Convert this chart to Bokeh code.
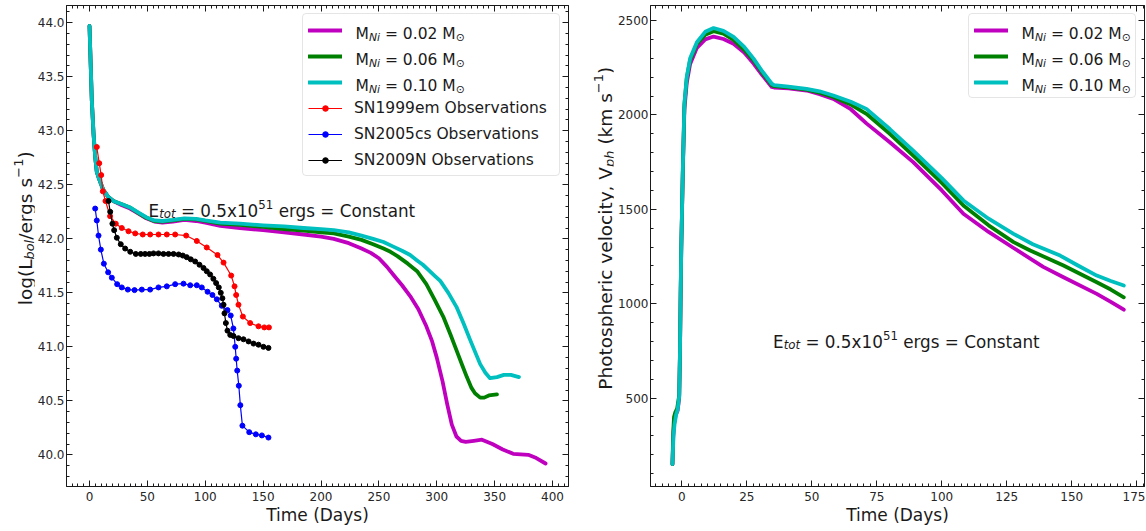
import math
from bokeh.plotting import figure
from bokeh.layouts import row
from bokeh.models import (Range1d, LinearAxis, SingleIntervalTicker, Legend, LegendItem,
                          Label, CustomJSTickFormatter, NumeralTickFormatter)
from bokeh.embed import file_html
from bokeh.resources import INLINE

FONT = "DejaVu Sans"
INK = "#1a1a1a"
TICK_INK = "#262626"

# ---------------- data: bolometric light curves (left panel) ----------------
lum_days_002 = [0, 1.1, 2, 3.5, 4.9, 6.3, 7.8, 9.5, 12, 16, 20.6, 28, 35, 42, 49, 56, 63, 72, 82, 92,
                100, 113, 130, 150, 168, 185, 200, 211, 224, 235, 243, 250, 257, 263, 270, 277, 284, 291,
                296, 300, 305, 309, 313, 317, 321, 325, 332, 339, 348, 357, 366, 379, 386, 394]
lum_002 = [43.97, 43.59, 43.28, 42.97, 42.76, 42.62, 42.57, 42.52, 42.45, 42.39, 42.35, 42.31, 42.28,
           42.235, 42.19, 42.16, 42.15, 42.16, 42.175, 42.165, 42.15, 42.12, 42.10, 42.08, 42.06, 42.04,
           42.02, 42.00, 41.96, 41.91, 41.87, 41.82, 41.74, 41.66, 41.57, 41.47, 41.35, 41.19,
           41.05, 40.90, 40.68, 40.47, 40.28, 40.17, 40.13, 40.12, 40.13, 40.14, 40.10, 40.05, 40.01,
           40.00, 39.97, 39.92]

lum_days_006 = [0, 1.1, 2, 3.5, 4.9, 6.3, 7.8, 9.5, 12, 16, 20.6, 28, 35, 42, 49, 56, 63, 72, 82, 92,
                100, 113, 130, 150, 168, 185, 200, 211, 224, 235, 245, 254, 260, 266, 275, 283, 291, 298,
                306, 312, 317, 322, 326, 330, 333, 337.5, 341, 345, 352]
lum_006 = [43.97, 43.59, 43.28, 42.97, 42.76, 42.62, 42.57, 42.52, 42.45, 42.39, 42.35, 42.32, 42.29,
           42.24, 42.195, 42.165, 42.16, 42.17, 42.185, 42.18, 42.165, 42.14, 42.13, 42.11, 42.09, 42.075,
           42.06, 42.05, 42.02, 41.99, 41.95, 41.91, 41.88, 41.84, 41.77, 41.70, 41.58, 41.44,
           41.27, 41.11, 40.97, 40.83, 40.72, 40.62, 40.57, 40.53, 40.53, 40.55, 40.56]

lum_days_010 = [0, 1.1, 2, 3.5, 4.9, 6.3, 7.8, 9.5, 12, 16, 20.6, 28, 35, 42, 49, 56, 63, 72, 82, 92,
                100, 113, 130, 150, 168, 185, 200, 211, 224, 235, 245, 254, 262, 270, 277, 283, 288, 293,
                298, 303, 310, 317, 323, 329, 334, 337.5, 342, 346, 352, 358, 364, 371]
lum_010 = [43.97, 43.59, 43.28, 42.97, 42.76, 42.62, 42.57, 42.52, 42.45, 42.39, 42.35, 42.32, 42.29,
           42.245, 42.20, 42.17, 42.165, 42.175, 42.19, 42.185, 42.17, 42.15, 42.14, 42.125, 42.115,
           42.10, 42.09, 42.08, 42.06, 42.03, 42.00, 41.97, 41.93, 41.89, 41.85, 41.80, 41.76, 41.71,
           41.66, 41.61, 41.50, 41.37, 41.22, 41.06, 40.93, 40.84, 40.76, 40.71, 40.72, 40.74, 40.74,
           40.72]

sn1999em_days = [6.3, 8.4, 10.1, 11.5, 13.8, 17.8, 22.7, 27.9, 33.7, 39.5, 46, 52.4, 59.6, 66.8, 74,
                 83.5, 92.7, 101.3, 110.6, 115.8, 122.4, 125.3, 126.7, 128.7, 132.5, 138.8, 146, 151, 155]
sn1999em_lum = [42.85, 42.70, 42.59, 42.44, 42.35, 42.21, 42.14, 42.10, 42.07, 42.05, 42.04, 42.04,
                42.04, 42.04, 42.04, 42.03, 41.98, 41.92, 41.85, 41.78, 41.66, 41.56, 41.48, 41.39,
                41.28, 41.22, 41.19, 41.18, 41.18]

sn2005cs_days = [4.9, 6.3, 7.8, 9.8, 12.4, 16.1, 19.3, 23.9, 27.9, 33.1, 38.9, 45.2, 52.4, 59.6, 66.8,
                 74, 81.2, 87, 92.7, 97, 102, 106.2, 110, 114.3, 119.2, 122, 124.3, 125.9, 126.7, 127.6,
                 129, 130.3, 132.1, 138, 143.7, 148.9, 154.6]
sn2005cs_lum = [42.28, 42.17, 42.03, 41.90, 41.77, 41.69, 41.64, 41.58, 41.55, 41.53, 41.525, 41.53,
                41.53, 41.55, 41.56, 41.58, 41.585, 41.57, 41.57, 41.55, 41.51, 41.48, 41.44, 41.38,
                41.34, 41.29, 41.17, 41.00, 40.89, 40.78, 40.64, 40.46, 40.27, 40.21, 40.19, 40.18, 40.16]

sn2009n_days = [16.4, 17.9, 19.8, 21.3, 23.6, 27, 30.8, 35.2, 40, 44.3, 48, 51.7, 55.3, 59.6, 63.9,
                68.3, 72.6, 77, 80.6, 84, 87.5, 91.3, 95, 98.5, 101.3, 104.2, 107, 109.4, 111.7, 113.4,
                114.8, 115.8, 116.6, 117.8, 119.2, 121.6, 124.4, 128.7, 133, 137.4, 141.7, 146, 150.3,
                154.6]
sn2009n_lum = [42.35, 42.25, 42.14, 42.08, 42.01, 41.95, 41.91, 41.88, 41.86, 41.86, 41.86, 41.86,
               41.865, 41.865, 41.86, 41.86, 41.86, 41.855, 41.845, 41.83, 41.81, 41.79, 41.76, 41.73,
               41.70, 41.67, 41.63, 41.59, 41.55, 41.50, 41.45, 41.39, 41.31, 41.22, 41.15, 41.11,
               41.10, 41.08, 41.07, 41.05, 41.03, 41.02, 41.00, 40.99]

# ---------------- data: photospheric velocity (right panel) ----------------
vel_days_002 = [-3.6, -3.3, -3.0, -2.4, -1.6, -1.0, -0.7, -0.45, -0.2, 0.4, 1.0, 1.9, 3.2, 5.8, 9, 12.2,
                16, 19.9, 24, 27.6, 31, 34.6, 35.5, 41, 48, 53, 58.3, 65, 71, 80, 89, 100, 108.3, 118,
                127.6, 139, 146.8, 159.6, 165, 170]
vel_002 = [150, 290, 360, 410, 434, 500, 740, 1040, 1290, 1700, 2030, 2170, 2270, 2355, 2400, 2415,
           2402, 2377, 2330, 2272, 2210, 2148, 2145, 2140, 2129, 2110, 2085, 2030, 1955, 1855, 1750,
           1600, 1476, 1380, 1295, 1195, 1140, 1052, 1010, 968]

vel_days_006 = [-3.6, -3.3, -3.0, -2.5, -1.8, -1.0, -0.7, -0.45, -0.2, 0.4, 1.0, 1.9, 3.2, 5.8, 9, 12.2,
                16, 19.9, 24, 27.6, 31, 34.6, 35.5, 41, 48, 53, 58.3, 65, 71, 80, 89, 100, 108.3, 118,
                127.6, 134, 146.8, 159.6, 165, 170]
vel_006 = [150, 320, 400, 425, 445, 515, 750, 1050, 1300, 1715, 2055, 2195, 2290, 2375, 2425, 2443,
           2430, 2398, 2345, 2288, 2222, 2158, 2152, 2146, 2134, 2118, 2095, 2055, 2006, 1900, 1785,
           1640, 1520, 1415, 1326, 1282, 1202, 1114, 1075, 1034]

vel_days_010 = [-3.6, -3.2, -2.8, -2.2, -1.6, -1.0, -0.7, -0.45, -0.2, 0.4, 1.0, 1.9, 3.2, 5.8, 9, 12.2,
                16, 19.9, 24, 27.6, 31, 34.6, 35.5, 41, 48, 53, 58.3, 65, 71, 80, 89, 100, 108.3, 118,
                127.6, 135, 145.5, 152, 159.6, 165, 170]
vel_010 = [150, 300, 360, 410, 440, 510, 750, 1050, 1300, 1720, 2060, 2200, 2300, 2385, 2440, 2460,
           2445, 2413, 2360, 2298, 2230, 2165, 2158, 2150, 2138, 2125, 2103, 2070, 2032, 1925, 1811,
           1665, 1547, 1450, 1370, 1315, 1255, 1205, 1149, 1120, 1096]

model_colors = ["#bf00bf", "#008000", "#00bfbf"]
model_masses = ["0.02", "0.06", "0.10"]
obs_names = ["SN1999em Observations", "SN2005cs Observations", "SN2009N Observations"]
obs_colors = ["#ff0000", "#0000ff", "#000000"]

# ---------------- text helpers (DejaVu Sans advance widths, em) ----------------
ADV = {' ': 0.318, '(': 0.390, ')': 0.390, '/': 0.337, '.': 0.318, ',': 0.318, '=': 0.838,
       '\u2212': 0.838, '-': 0.361, 'x': 0.592, '\u2299': 0.838,
       'C': 0.698, 'D': 0.770, 'E': 0.632, 'L': 0.557, 'M': 0.863, 'N': 0.748, 'O': 0.787,
       'P': 0.603, 'S': 0.635, 'T': 0.611, 'V': 0.684,
       'a': 0.613, 'b': 0.635, 'c': 0.550, 'e': 0.615, 'g': 0.635, 'h': 0.634, 'i': 0.278,
       'k': 0.579, 'l': 0.278, 'm': 0.974, 'n': 0.634, 'o': 0.612, 'p': 0.635, 'r': 0.411,
       's': 0.521, 't': 0.392, 'v': 0.592, 'y': 0.592}
for _d in "0123456789":
    ADV[_d] = 0.636


def text_width(txt, size):
    return sum(ADV.get(c, 0.6) for c in txt) * size


def rich_text(p, x, y, pieces, size, dx=0.0, dy=0.0, rotate=False, center=False, color=INK):
    segs, total = [], 0.0
    for txt, kind in pieces:
        fs = size if kind == "n" else 0.7 * size
        if kind.startswith("sub"):
            shift = -0.2 * size
        elif kind.startswith("sup"):
            shift = 0.4 * size
        else:
            shift = 0.0
        lead = len(txt) - len(txt.lstrip(" "))
        segs.append((txt.strip(" "), fs, shift, kind.endswith("i"), total + lead * ADV[" "] * fs))
        total += text_width(txt, fs)
    start = -total / 2.0 if center else 0.0
    for txt, fs, shift, ital, pos in segs:
        along = start + pos
        if rotate:
            xo, yo, ang = dx - shift, dy + along, math.pi / 2
        else:
            xo, yo, ang = dx + along, dy + shift, 0.0
        p.add_layout(Label(x=x, y=y, x_offset=xo, y_offset=yo, text=txt, angle=ang,
                           text_font=FONT, text_font_size=f"{fs:.1f}px",
                           text_font_style="italic" if ital else "normal",
                           text_color=color, text_align="left", text_baseline="alphabetic",
                           level="overlay"))


def style_axis(ax, standoff):
    ax.axis_line_color = INK
    ax.major_tick_line_color = INK
    ax.minor_tick_line_color = INK
    ax.major_tick_in = 6
    ax.major_tick_out = 0
    ax.minor_tick_in = 3
    ax.minor_tick_out = 0
    ax.major_label_text_font = FONT
    ax.major_label_text_font_size = "12px"
    ax.major_label_text_color = TICK_INK
    ax.major_label_standoff = standoff


FRAME_H = 481
FIG_H = 530
TOP_B = 5


def make_fig(xr, yr, xstep, xminor, ystep, yminor, fw, bl, br):
    p = figure(x_range=Range1d(*xr), y_range=Range1d(*yr), frame_width=fw, frame_height=FRAME_H,
               min_border_left=bl, min_border_right=br, min_border_top=TOP_B,
               min_border_bottom=FIG_H - FRAME_H - TOP_B,
               output_backend="svg", toolbar_location=None)
    p.grid.visible = False
    p.outline_line_color = INK
    p.background_fill_color = "white"
    p.border_fill_color = "white"
    bx = p.xaxis[0]
    by = p.yaxis[0]
    bx.ticker = SingleIntervalTicker(interval=xstep, num_minor_ticks=xminor)
    by.ticker = SingleIntervalTicker(interval=ystep, num_minor_ticks=yminor)
    style_axis(bx, 5)
    style_axis(by, 2)
    bx.axis_label = "Time (Days)"
    bx.axis_label_text_font = FONT
    bx.axis_label_text_font_size = "17px"
    bx.axis_label_text_font_style = "normal"
    bx.axis_label_text_color = INK
    bx.axis_label_standoff = 1
    for loc, step, minor in (("above", xstep, xminor), ("right", ystep, yminor)):
        ax = LinearAxis(ticker=SingleIntervalTicker(interval=step, num_minor_ticks=minor),
                        formatter=CustomJSTickFormatter(code="return '';"))
        style_axis(ax, 0)
        ax.major_label_text_font_size = "0px"
        p.add_layout(ax, loc)
    return p, bx, by


def label_fig(canvas_w, flow_w):
    # canvas wider than its slot in the row: the next plot (opaque) overlaps the unused part
    f = figure(width=canvas_w, height=FIG_H, x_range=Range1d(0, canvas_w), y_range=Range1d(0, FIG_H),
               x_axis_type=None, y_axis_type=None, min_border=0,
               output_backend="svg", toolbar_location=None,
               styles={"margin-right": f"-{canvas_w - flow_w}px"})
    f.outline_line_color = None
    f.background_fill_color = "white"
    f.border_fill_color = "white"
    return f


# vertical centre of the plotting frames, measured from the bottom of the figure canvas
FRAME_MID = FIG_H - (TOP_B + FRAME_H / 2.0)

LEG_M, LEG_PAD, LEG_GW, LEG_LS, LEG_H, LEG_GH, LEG_SP, LEG_FS = 8, 5, 34, 12, 21, 14, 5, 15.5


def add_legend(p, items, label_w):
    leg = Legend(items=items, location="top_right", margin=LEG_M, padding=LEG_PAD,
                 glyph_width=LEG_GW, glyph_height=LEG_GH, label_height=LEG_H, label_width=label_w,
                 label_standoff=LEG_LS, spacing=LEG_SP, label_text_font=FONT,
                 label_text_font_size=f"{LEG_FS}px", label_text_color=INK,
                 border_line_color="#cccccc", border_line_width=1,
                 background_fill_color="white", background_fill_alpha=0.0)
    if "border_radius" in Legend.properties():
        leg.border_radius = 4
    p.add_layout(leg)


def legend_model_labels(p, xr, yr, label_w):
    text_dx = -(LEG_M + LEG_PAD + label_w)
    for i, m in enumerate(model_masses):
        dy = -(LEG_M + LEG_PAD + i * (LEG_H + LEG_SP) + LEG_H / 2.0) - 0.35 * LEG_FS
        rich_text(p, xr[1], yr[1], [("M", "n"), ("Ni", "subi"), (f" = {m} M", "n"), ("\u2299", "sub")],
                  LEG_FS, dx=text_dx, dy=dy)


# ---------------- left panel ----------------
LX = (-19.87, 413.8)
LY = (39.707, 44.160)
p1, bx1, by1 = make_fig(LX, LY, 50, 10, 0.5, 5, 502, 29, 1)
by1.formatter = NumeralTickFormatter(format="0.0")

model_lum = [(lum_days_002, lum_002), (lum_days_006, lum_006), (lum_days_010, lum_010)]
items1 = []
for (d, v), c in zip(model_lum, model_colors):
    r = p1.line(d, v, line_color=c, line_width=3.8, line_join="round", line_cap="round")
    items1.append(LegendItem(label=" ", renderers=[r]))

obs = [(sn1999em_days, sn1999em_lum), (sn2005cs_days, sn2005cs_lum), (sn2009n_days, sn2009n_lum)]
for (d, v), c, name in zip(obs, obs_colors, obs_names):
    rl = p1.line(d, v, line_color=c, line_width=1.2)
    rs = p1.scatter(d, v, size=5, marker="circle", fill_color=c, line_color=c)
    items1.append(LegendItem(label=name, renderers=[rl, rs]))

LLW = 200
add_legend(p1, items1, LLW)
legend_model_labels(p1, LX, LY, LLW)

rich_text(p1, 51.0, 42.257,
          [("E", "n"), ("tot", "subi"), (" = 0.5x10", "n"), ("51", "sup"), (" ergs = Constant", "n")], 16.8)

ylab1 = label_fig(200, 34)
rich_text(ylab1, 25, FRAME_MID,
          [("log(L", "n"), ("bol", "subi"), ("/ergs s", "n"), ("\u22121", "sup"), (")", "n")],
          18.5, rotate=True, center=True)

# ---------------- right panel ----------------
RX = (-12.04, 177.96)
RY = (31.8, 2579.4)
p2, bx2, by2 = make_fig(RX, RY, 25, 10, 500, 5, 494, 37, 1)

model_vel = [(vel_days_002, vel_002), (vel_days_006, vel_006), (vel_days_010, vel_010)]
items2 = []
for (d, v), c in zip(model_vel, model_colors):
    r = p2.line(d, v, line_color=c, line_width=3.8, line_join="round", line_cap="round")
    items2.append(LegendItem(label=" ", renderers=[r]))

RLW = 110
add_legend(p2, items2, RLW)
legend_model_labels(p2, RX, RY, RLW)

rich_text(p2, 35.1, 797,
          [("E", "n"), ("tot", "subi"), (" = 0.5x10", "n"), ("51", "sup"), (" ergs = Constant", "n")], 16.8)

ylab2 = label_fig(400, 44)
rich_text(ylab2, 36, FRAME_MID,
          [("Photospheric velocity, V", "n"), ("ph", "subi"), (" (km s", "n"), ("\u22121", "sup"), (")", "n")],
          18.5, rotate=True, center=True)

layout = row(ylab1, p1, ylab2, p2)
open("out.html", "w").write(file_html(layout, INLINE))
